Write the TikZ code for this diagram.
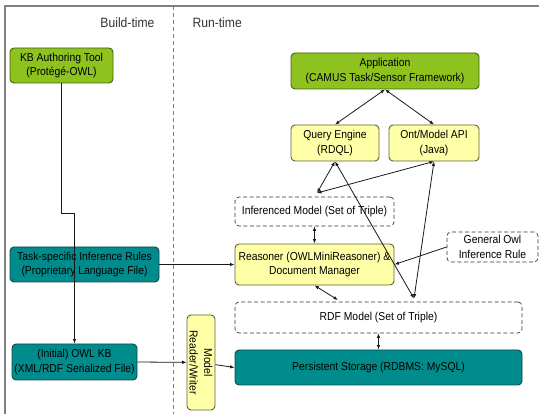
\documentclass[tikz,border=0pt]{standalone}
\usepackage{fontspec}
\setmainfont{Liberation Sans}[FakeStretch=0.9]
\usetikzlibrary{arrows.meta,calc}

\definecolor{leaf}{RGB}{141,194,31}
\definecolor{leafline}{RGB}{70,95,20}
\definecolor{cream}{RGB}{255,255,168}
\definecolor{creamline}{RGB}{95,95,60}
\definecolor{tealfill}{RGB}{0,140,140}
\definecolor{tealline}{RGB}{20,70,70}
\definecolor{framegray}{RGB}{128,128,128}

\begin{document}
\begin{tikzpicture}[x=1pt,y=-1pt,
  box/.style={rounded corners=4pt, line width=0.9pt, align=center, inner sep=1pt,
              font=\fontsize{11.5}{14.5}\selectfont},
  greenbox/.style={box, fill=leaf, draw=leafline},
  yellowbox/.style={box, fill=cream, draw=creamline},
  tealbox/.style={box, fill=tealfill, draw=tealline},
  dashbox/.style={box, fill=white, draw=black!80, dash pattern=on 4pt off 2.5pt, line width=0.7pt},
  header/.style={font=\fontsize{13.5}{15}\selectfont, text=black!80},
  tip/.style={-{Latex[length=4.5pt,width=3.5pt]}, line width=0.8pt, draw=black!90},
  both/.style={{Latex[length=4.5pt,width=3.5pt]}-{Latex[length=4.5pt,width=3.5pt]}, line width=0.8pt, draw=black!90}
]
\useasboundingbox (0,0) rectangle (539,414);

% frame and build/run divider
\draw[framegray, line width=1.4pt] (5,414) -- (5,6) -- (539,6);
\draw[framegray, dash pattern=on 4pt off 3pt, line width=0.9pt] (173,6) -- (173,414);
\node[header, anchor=east] (build) at (158,23) {Build-time};
\node[header, anchor=west] (run) at (189,23) {Run-time};

% build-time side
\node[greenbox, minimum width=103pt, minimum height=35pt] (kb) at (61.5,65.5)
  {KB Authoring Tool\\(Prot\'eg\'e-OWL)};
\node[tealbox, minimum width=149pt, minimum height=35pt] (task) at (84.5,264.5)
  {Task-specific Inference Rules\\(Proprietary Language File)};
\node[tealbox, minimum width=125pt, minimum height=36pt] (owl) at (74.5,362)
  {(Initial) OWL KB\\(XML/RDF Serialized File)};
\node[yellowbox, rotate=-90, minimum width=95pt, minimum height=28pt] (mrw) at (201,362.5)
  {Model\\Reader/Writer};

% run-time side
\node[greenbox, minimum width=188pt, minimum height=36pt] (app) at (385,71)
  {Application\\(CAMUS Task/Sensor Framework)};
\node[yellowbox, minimum width=88pt, minimum height=36pt] (qe) at (335,143)
  {Query Engine\\(RDQL)};
\node[yellowbox, minimum width=90pt, minimum height=36pt] (api) at (434,143)
  {Ont/Model API\\(Java)};
\node[dashbox, minimum width=159pt, minimum height=29pt] (inf) at (314.5,211.5)
  {Inferenced Model (Set of Triple)};
\node[yellowbox, minimum width=159pt, minimum height=41pt] (rea) at (314.5,264.5)
  {Reasoner (OWLMiniReasoner) \&\\Document Manager};
\node[dashbox, minimum width=91pt, minimum height=30pt] (gen) at (492.5,247)
  {General Owl\\Inference Rule};
\node[dashbox, minimum width=287pt, minimum height=31pt] (rdf) at (378.5,317.5)
  {RDF Model (Set of Triple)};
\node[tealbox, minimum width=287pt, minimum height=35pt] (ps) at (378.5,367.5)
  {Persistent Storage (RDBMS: MySQL)};

% connector meeting points
\coordinate (kbbend) at (74.5,213);
\coordinate (infhub) at (317,193);
\coordinate (rdfhub) at (414,298.5);
\coordinate (rdfin) at (338,300);

% connectors
\draw[tip] (kb.south) |- (kbbend) -- (owl.north);
\draw[tip] (task.east) -- (rea.west);
\draw[tip] (owl.east) -- (mrw);
\draw[tip] (mrw) -- (ps.west);
\draw[both] (app.south) -- (qe.north);
\draw[both] (app.south) -- (api.north);
\draw[both] (qe.south) -- (infhub);
\draw[both] (api.south) -- (infhub);
\draw[both] (qe.south) -- (rdfhub);
\draw[both] (api.south) -- (rdfhub);
\draw[both] (inf.south) -- (rea.north);
\draw[tip] (gen.west) -- (rea.east);
\draw[both] (rea.south) -- (rdfin);
\draw[both] (rdf.south) -- (ps.north);
\end{tikzpicture}
\end{document}
